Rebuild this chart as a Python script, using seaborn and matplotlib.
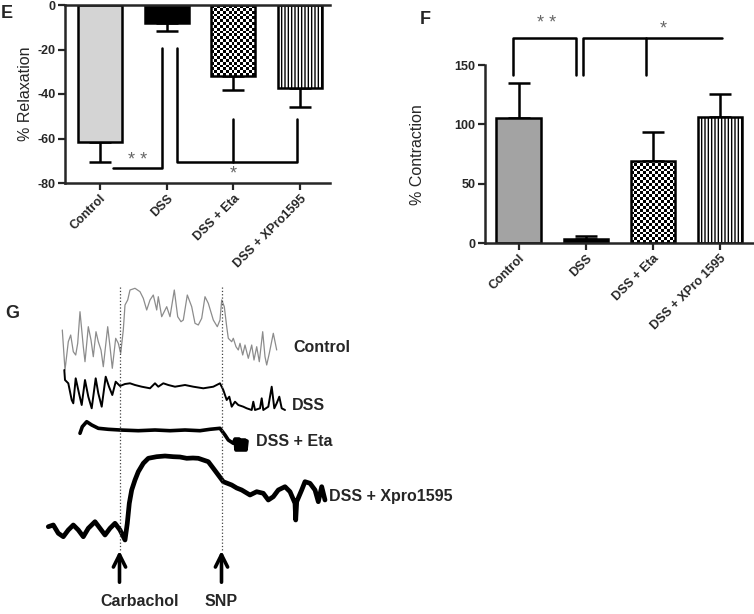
import numpy as np
import matplotlib
matplotlib.use("Agg")
import matplotlib.pyplot as plt
import seaborn as sns

# ---- panel E / F data ----
groups_e = ["Control", "DSS", "DSS + Eta", "DSS + XPro1595"]
relax_mean = [-61.4, -8.0, -31.9, -37.4]
relax_sem = [9.0, 3.5, 6.3, 8.3]
relax_ticks = [0, -20, -40, -60, -80]

groups_f = ["Control", "DSS", "DSS + Eta", "DSS + XPro 1595"]
contr_mean = [105.0, 3.0, 69.4, 105.9]
contr_sem = [29.6, 3.0, 24.4, 19.4]
contr_ticks = [0, 50, 100, 150]

# ---- panel G traces (time in a.u., tension read downward in a.u.) ----
ctrl_t = [62.3, 65, 68.3, 70.7, 73.3, 75.7, 77.7, 80, 83.3, 85, 88.3, 91, 93.3, 96, 98.3,
          101, 103.3, 107.7, 110, 112.3, 115.7, 118.3, 120.7, 123.3, 125, 127.7, 130, 135,
          140, 143.3, 146.7, 150, 153.3, 156.7, 158.3, 161.7, 166.7, 170, 174.3, 177.7, 181,
          183.3, 187.3, 191.7, 195, 198.3, 201.7, 205, 208.3, 213.3, 217.3, 220, 221.7, 224.3,
          226.7, 228.3, 231.7, 233.3, 236, 238.3, 240, 242.7, 245, 248.3, 251.7, 254, 256.7,
          259.3, 262.7, 265, 266.7, 269.3, 273.3, 276.7]
ctrl_y = [330, 370, 341.7, 335, 351.7, 355, 343.3, 311.7, 346.7, 361.7, 326.7, 340, 356.7,
          331.7, 341.7, 350, 366.7, 326.7, 346.7, 368.3, 338.3, 343.3, 353.3, 330, 305, 300,
          290, 288.3, 291.7, 298.3, 310, 300, 295, 310, 296.7, 316.7, 306.7, 316.7, 290, 316.7,
          321.7, 320, 295, 306.7, 323.3, 325, 318.3, 296.7, 303.3, 320, 326.7, 320, 300, 306.7,
          326.7, 338.3, 341.7, 338.3, 346.7, 350, 343.3, 355, 345, 358.3, 345, 360, 346.7,
          361.7, 331.7, 356.7, 365, 353.3, 333.3, 350]

dss_t = [64.3, 65, 68.3, 71.7, 73.3, 75.7, 79, 81.7, 85, 88.3, 91.7, 95.7, 98.3, 101.7, 105.7,
         109, 112.3, 115.7, 120, 125, 130, 135, 141.7, 150, 155, 158.3, 163.3, 168.3, 175, 185,
         193.3, 203.3, 213.3, 220, 223.3, 226.7, 229.3, 231.7, 235, 238.3, 243.3, 246.7, 251.7,
         253.3, 255, 260, 261.7, 263.3, 268.3, 271.7, 274.3, 276.7, 279.3, 281.7, 285]
dss_y = [370, 380, 383.3, 400, 403.3, 378.3, 393.3, 405, 380, 396.7, 408.3, 378.3, 393.3, 406.7,
         376.7, 386.7, 395, 381.7, 386, 384, 383.3, 385, 386.7, 388.3, 383.3, 386.7, 383.3, 385,
         386.7, 385, 386.7, 388.3, 386.7, 383.3, 390, 400, 396.7, 406.7, 401.7, 405, 406.7, 408.3,
         410, 401.7, 410, 408.3, 398.3, 410, 406.7, 386.7, 408.3, 403.3, 396.7, 408.3, 410]

eta_t = [80, 82.3, 86.7, 91.7, 98.3, 108.3, 120, 138.3, 155, 170, 185, 200, 210, 220, 225, 228.3,
         233.3, 235, 236, 237, 238, 239, 240, 241, 242, 243, 244, 245, 246, 247]
eta_y = [433.3, 426.7, 421.7, 425, 428.3, 429.3, 430, 430.7, 430, 430.7, 430, 430.7, 429.3, 428.3,
         435, 440, 443.3, 439, 450, 439, 450, 439, 450, 440, 450, 440, 450, 440, 450, 441]

xpro_t = [48.3, 53.3, 58.3, 63.3, 68.3, 73.3, 78.3, 83.3, 88.3, 95, 100, 105, 110, 115, 120, 125,
          127.3, 129.3, 131.7, 135, 138.3, 143.3, 148.3, 156.7, 165, 173.3, 180, 186.7, 193,
          198.3, 208.3, 213.3, 218.3, 223.3, 231.7, 236.7, 241.7, 250, 256.7, 263.3, 268.3,
          273.3, 278.3, 285, 290, 295, 295.7, 296.7, 301.7, 305, 310, 315, 318.3, 321.7, 325]
xpro_y = [526.7, 525, 533.3, 536.7, 530, 525, 530, 536.7, 528.3, 521.7, 528.3, 535, 528.3, 523.3,
          530, 540, 523.3, 503.3, 490, 480, 471.7, 463.3, 458.3, 456.7, 456, 456.7, 457, 458.3,
          458, 458.3, 461.7, 468.3, 475, 481.7, 485, 488, 490, 495, 491.7, 493.3, 500, 496.7,
          490, 486.7, 491.7, 503.3, 520, 501.7, 490, 481.7, 483.3, 490, 501.7, 486.7, 500]

event_names = ["Carbachol", "SNP"]
event_t = [119.5, 221.5]

sns.set_style("ticks")
plt.rcParams["font.family"] = ["Liberation Sans", "DejaVu Sans"]
plt.rcParams["axes.unicode_minus"] = False

W, H = 754, 614
fig = plt.figure(figsize=(W / 100, H / 100), dpi=100)


def style_bars(ax, colors, hatches, checker_idx):
    for i, p in enumerate(ax.patches):
        p.set_edgecolor("black")
        p.set_linewidth(1.8)
        p.set_facecolor(colors[i])
        if hatches[i]:
            p.set_hatch(hatches[i])
    xl, yl = ax.get_xlim(), ax.get_ylim()
    p = ax.patches[checker_idx]
    x0, y0, w, h = p.get_x(), p.get_y(), p.get_width(), p.get_height()
    (a, b), (c, d) = ax.transData.transform([(x0, y0), (x0 + w, y0 + h)])
    nx, ny = max(int(abs(c - a) / 2.8), 1), max(int(abs(d - b) / 2.8), 1)
    arr = np.indices((ny, nx)).sum(axis=0) % 2
    im = ax.imshow(arr, cmap="gray", extent=(x0, x0 + w, min(y0, y0 + h), max(y0, y0 + h)),
                   interpolation="nearest", aspect="auto", zorder=1.5)
    im.set_clip_path(p)
    p.set_facecolor("none")
    p.set_zorder(2)
    ax.set_xlim(xl)
    ax.set_ylim(yl)


def tick_style(ax, groups, yticks):
    ax.tick_params(axis="both", width=1.6, length=5, pad=2)
    ax.set_yticks(yticks)
    ax.set_yticklabels([str(v) for v in yticks], fontweight="bold", fontsize=9)
    ax.set_xticks(range(len(groups)))
    ax.set_xticklabels(groups, fontweight="bold", fontsize=9, rotation=45, ha="right",
                       rotation_mode="anchor")
    for s in ax.spines.values():
        s.set_linewidth(1.8)


# ---------------- panel E ----------------
ax_e = fig.add_axes([65 / W, 1 - 183 / H, 265 / W, 178 / H])
sns.barplot(x=groups_e, y=relax_mean, hue=groups_e, legend=False, width=0.66,
            errorbar=None, ax=ax_e, saturation=1)
ax_e.errorbar(range(4), relax_mean, yerr=[relax_sem, [0] * 4], fmt="none", ecolor="black",
              elinewidth=1.8, capsize=8, capthick=1.8, zorder=0.5)
ax_e.set_xlim(-0.525, 3.45)
ax_e.set_ylim(-80, 0)
sns.despine(ax=ax_e, right=True, top=False)
tick_style(ax_e, groups_e, relax_ticks)
style_bars(ax_e, ["#d4d4d4", "black", "white", "white"], [None, None, None, "|||||"], 2)
ax_e.set_ylabel("% Relaxation", fontsize=11.5)
ax_e.yaxis.set_label_coords(-0.121, 0.5)

ax_e.plot([0.19, 0.93, 0.93], [-73.3, -73.3, -19.3], color="black", lw=1.8, clip_on=False)
ax_e.plot([1.15, 1.15, 2.96, 2.96], [-19.3, -70.4, -70.4, -51.2], color="black", lw=1.8,
          clip_on=False)
ax_e.plot([2.0, 2.0], [-70.4, -51.2], color="black", lw=1.8)
ax_e.text(0.57, -70.0, "* *", ha="center", va="center", fontsize=13, color="#666666")
ax_e.text(2.0, -76.0, "*", ha="center", va="center", fontsize=13, color="#666666")

# ---------------- panel F ----------------
ax_f = fig.add_axes([485 / W, 1 - 243 / H, 268 / W, 178 / H])
sns.barplot(x=groups_f, y=contr_mean, hue=groups_f, legend=False, width=0.66,
            errorbar=None, ax=ax_f, saturation=1)
ax_f.errorbar(range(4), contr_mean, yerr=[[0] * 4, contr_sem], fmt="none", ecolor="black",
              elinewidth=1.8, capsize=8, capthick=1.8, zorder=0.5)
ax_f.set_xlim(-0.5, 3.49)
ax_f.set_ylim(0, 150)
sns.despine(ax=ax_f)
tick_style(ax_f, groups_f, contr_ticks)
style_bars(ax_f, ["#a3a3a3", "black", "white", "white"], [None, None, None, "|||||"], 2)
ax_f.set_ylabel("% Contraction", fontsize=11.5)
ax_f.yaxis.set_label_coords(-0.224, 0.494)

ax_f.plot([-0.09, -0.09, 0.85, 0.85], [141.6, 173, 173, 141.6], color="black", lw=1.8,
          clip_on=False)
ax_f.plot([0.96, 0.96, 3.03], [141.6, 173, 173], color="black", lw=1.8, clip_on=False)
ax_f.plot([1.9, 1.9], [173, 141.6], color="black", lw=1.8, clip_on=False)
ax_f.text(0.42, 185, "* *", ha="center", va="center", fontsize=13, color="#666666", clip_on=False)
ax_f.text(2.16, 180, "*", ha="center", va="center", fontsize=13, color="#666666", clip_on=False)

# ---------------- panel G ----------------
ax_g = fig.add_axes([40 / W, 0, 440 / W, 334 / H])
sns.lineplot(x=ctrl_t, y=ctrl_y, ax=ax_g, color="#8c8c8c", lw=0.9, sort=False, estimator=None)
sns.lineplot(x=dss_t, y=dss_y, ax=ax_g, color="black", lw=1.4, sort=False, estimator=None)
sns.lineplot(x=eta_t, y=eta_y, ax=ax_g, color="black", lw=2.6, sort=False, estimator=None)
sns.lineplot(x=xpro_t, y=xpro_y, ax=ax_g, color="black", lw=3.4, sort=False, estimator=None)
ax_g.set_xlim(40, 480)
ax_g.set_ylim(614, 280)
ax_g.axis("off")
ax_g.vlines(event_t, 287, 552, colors="#444444", linestyles=":", lw=0.9)
for t in event_t:
    ax_g.annotate("", xy=(t, 548), xytext=(t, 585),
                  arrowprops=dict(arrowstyle="->", lw=2.6, color="black", mutation_scale=22))
ax_g.text(100, 602, event_names[0], fontsize=11.5, fontweight="bold", va="center", ha="left")
ax_g.text(event_t[1], 602, event_names[1], fontsize=11.5, fontweight="bold", va="center",
          ha="center")

lab_kw = dict(fontsize=11.5, fontweight="bold", va="center", ha="left")
ax_g.text(293, 348, "Control", **lab_kw)
ax_g.text(292, 406, "DSS", **lab_kw)
ax_g.text(256, 442, "DSS + Eta", **lab_kw)
ax_g.text(329, 497, "DSS + Xpro1595", **lab_kw)

# panel letters
fig.text(1 / W, 1 - 13 / H, "E", fontsize=13, fontweight="bold", va="center")
fig.text(420 / W, 1 - 19 / H, "F", fontsize=13, fontweight="bold", va="center")
fig.text(5 / W, 1 - 314 / H, "G", fontsize=13, fontweight="bold", va="center")

fig.savefig("out.png", dpi=100)
